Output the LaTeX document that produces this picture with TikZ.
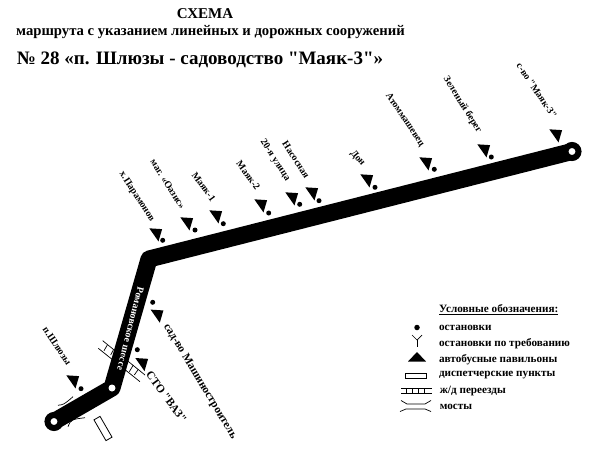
\documentclass[tikz,border=0pt]{standalone}
\usepackage{fontspec}
\setmainfont{Liberation Serif}
\newfontfamily\plainserif{Liberation Serif}
\usetikzlibrary{positioning}
\newcommand{\dq}{{\plainserif\symbol{34}}}

\begin{document}
\begin{tikzpicture}[x=1pt, y=-1pt, line width = 0.7pt,
    route/.style = {line width = 17pt, line join = round, line cap = round},
    term/.style = {circle, draw, fill = white, line width = 6pt, minimum size = 13pt, inner sep = 0pt},
    hole/.style = {circle, fill = white, minimum size = 7pt, inner sep = 0pt},
    halt/.style = {circle, fill = black, minimum size = 5pt, inner sep = 0pt},
    lbl/.style = {font = \bfseries\fontsize{9.8}{10}\selectfont, inner sep = 0pt, text = black},
    title/.style = {font = \bfseries, inner sep = 0pt},
    legend/.style = {font = \bfseries\fontsize{11.2}{12}\selectfont, inner sep = 0pt, anchor = west},
    pavil/.pic = {\fill (-8,5) -- (8,5) -- (0,-5) -- cycle;}]
    \useasboundingbox (0,0) rectangle (600,450);
    % titles
    \node[title, font = \bfseries\fontsize{15}{15}\selectfont] (head) at (205,14) {СХЕМА};
    \node[title, font = \bfseries\fontsize{14.7}{15}\selectfont] (sub) at (210.5,32) {маршрута с указанием линейных и дорожных сооружений};
    \node[title, font = \bfseries\fontsize{19}{19}\selectfont] (num) at (200,60) {№ 28 «п. Шлюзы - садоводство \dq Маяк-3\dq»};
    % route
    \coordinate (c1) at (54,421.5);
    \coordinate (c2) at (112,388);
    \coordinate (c3) at (149,259);
    \coordinate (c4) at (572,151.5);
    \draw[route] (c1) -- (c2) -- (c3) -- (c4);
    \node[term] (t1) at (c1) {};
    \node[hole] (t2) at (c2) {};
    \node[term] (t3) at (c4) {};
    \node[lbl, text = white, rotate = -104] (road) at (130.5,329) {Романовское шоссе};
    % stops on the long leg
    \node[halt] (d1) at (162.7,240.3) {};
    \pic[rotate = -55] at (158,232) {pavil};
    \node[lbl, rotate = -57] (l1) at (136.7,196.7) {х.Парамонов};
    \node[halt] (d2) at (195,230) {};
    \pic[rotate = -55] at (189,221) {pavil};
    \node[lbl, rotate = -58] (l2) at (167.8,184) {маг. «Оазис»};
    \node[halt] (d3) at (223.3,223.7) {};
    \pic[rotate = -55] at (218,214) {pavil};
    \node[lbl, rotate = -54] (l3) at (203.8,186.7) {Маяк-1};
    \node[halt] (d4) at (268.7,213) {};
    \pic[rotate = -55] at (263,203) {pavil};
    \node[lbl, rotate = -54] (l4) at (248.3,175.5) {Маяк-2};
    \node[halt] (d5) at (299.7,204.3) {};
    \pic[rotate = -55] at (294,196) {pavil};
    \node[lbl, rotate = -57] (l5) at (275,160.3) {20-я улица};
    \node[halt] (d6) at (319,200.7) {};
    \pic[rotate = -55] at (314,191) {pavil};
    \node[lbl, rotate = -57] (l6) at (296,159.7) {Насосная};
    \node[halt] (d7) at (375,187.3) {};
    \pic[rotate = -55] at (369,178) {pavil};
    \node[lbl, rotate = -50] (l7) at (357.5,158.3) {Дон};
    \node[halt] (d8) at (434.3,169.3) {};
    \pic[rotate = -55] at (428,161) {pavil};
    \node[lbl, rotate = -56] (l8) at (405,120) {Атоммашевец};
    \node[halt] (d9) at (491.3,157) {};
    \pic[rotate = -55] at (486,148) {pavil};
    \node[lbl, rotate = -58] (l9) at (462.5,104.7) {Зеленый берег};
    \pic[rotate = -55] at (558,133) {pavil};
    \node[lbl, rotate = -56] (l10) at (536.8,90.8) {с-во \dq Маяк-3\dq};
    % stops on the short legs
    \node[halt] (d11) at (81,388.7) {};
    \pic[rotate = -55] at (75,379) {pavil};
    \node[lbl, rotate = -56] (l11) at (57,346) {п.Шлюзы};
    \node[halt] (d12) at (152.7,302.3) {};
    \pic[rotate = -55] at (159.3,313.3) {pavil};
    \node[lbl, rotate = -59, font = \bfseries\fontsize{11.4}{12}\selectfont] (l12) at (200,381.5) {сад-во Машиностроитель};
    \node[halt] (d13) at (137.3,349.7) {};
    \pic[rotate = -55] at (144,361.7) {pavil};
    \node[lbl, rotate = -54, font = \bfseries\fontsize{11.4}{12}\selectfont] (l13) at (166.5,397) {СТО \dq ВАЗ\dq};
    % railway crossing
    \draw (102.7,340.7) -- (145,375);
    \draw (98.3,348.3) -- (140,381.7);
    \draw (107.3,345) -- (104,350.7);
    \draw (113.3,350) -- (110.7,355);
    \draw (133.3,365) -- (129.3,371.7);
    \draw (138.3,369.3) -- (134.3,375);
    % bridges
    \draw (58,405.3) .. controls (64,404.5) .. (73,396.7);
    \draw (68,426.7) .. controls (71,419.5) .. (85,417.7);
    % dispatcher point
    \node[draw, line width = 0.8pt, minimum width = 24pt, minimum height = 7pt, inner sep = 0pt, rotate = -60] (disp) at (103,428.5) {};
    % legend
    \node[legend] (lg0) at (438.7,309.5) {\underline{Условные обозначения:}};
    \node[legend] (lg1) at (438.7,328) {остановки};
    \node[legend] (lg2) at (438.7,344) {остановки по требованию};
    \node[legend] (lg3) at (438.7,360) {автобусные павильоны};
    \node[legend] (lg4) at (438.7,375) {диспетчерские пункты};
    \node[legend] (lg5) at (439.5,391) {ж/д переезды};
    \node[legend] (lg6) at (439.5,407) {мосты};
    \node[halt, minimum size = 5.5pt] (s1) at (417,327.5) {};
    \draw (412,335) -- (417,340) -- (422,335);
    \draw (417,340) -- (417,347);
    \fill (408,361.5) -- (426,361.5) -- (417,352) -- cycle;
    \node[draw, line width = 0.8pt, minimum width = 21pt, minimum height = 5pt, inner sep = 0pt] (s4) at (416,375.5) {};
    \draw (401,388.7) -- (432,388.7);
    \draw (401,393.7) -- (432,393.7);
    \draw (406,388.7) -- (406,393.7) (412,388.7) -- (412,393.7) (418,388.7) -- (418,393.7) (424,388.7) -- (424,393.7);
    \draw (401,400.5) -- (407,404) -- (425,404) -- (431,400.5);
    \draw (400,411.5) -- (406,409) -- (425,409) -- (431,411.5);
\end{tikzpicture}
\end{document}
